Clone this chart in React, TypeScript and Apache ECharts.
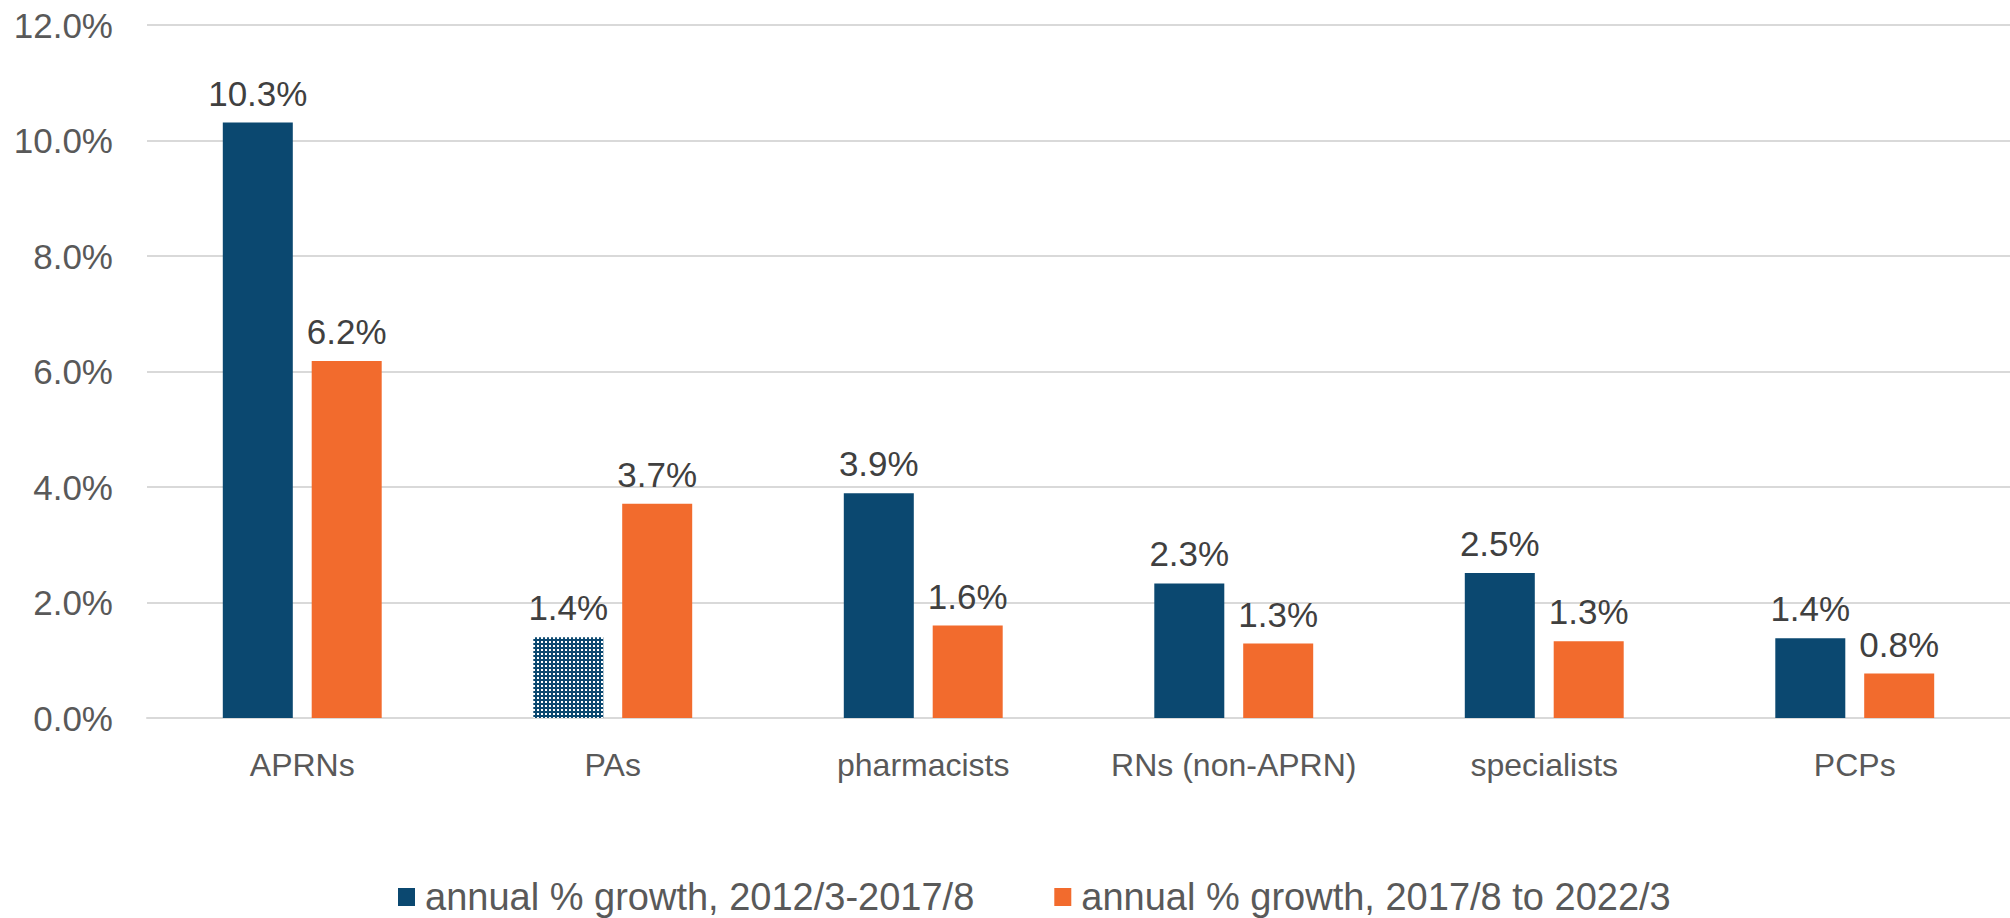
import React, { useEffect, useRef } from "react";
import * as echarts from "echarts";

const categories = ["APRNs", "PAs", "pharmacists", "RNs (non-APRN)", "specialists", "PCPs"];
const seriesNames = ["annual % growth, 2012/3-2017/8", "annual % growth, 2017/8 to 2022/3"];
const growth2012to2017 = [10.31, 1.4, 3.89, 2.33, 2.51, 1.38];
const growth2017to2022 = [6.18, 3.71, 1.6, 1.29, 1.33, 0.77];
const patternedIndex = 1; // PAs first-period bar is drawn with a dotted pattern

const BLUE = "#0B4870";
const ORANGE = "#F26B2D";
const FONT = "'Liberation Sans', Arial, sans-serif";

function makePattern(): HTMLCanvasElement {
  const c = document.createElement("canvas");
  c.width = 4;
  c.height = 4;
  const ctx = c.getContext("2d")!;
  ctx.fillStyle = BLUE;
  ctx.fillRect(0, 0, 4, 4);
  ctx.fillStyle = "#ffffff";
  ctx.fillRect(1, 1, 2, 2);
  return c;
}

export default function App() {
  const ref = useRef<HTMLDivElement>(null);
  useEffect(() => {
    if (!ref.current) return;
    const chart = echarts.init(ref.current, undefined, { renderer: "svg" });
    const pattern = makePattern();
    const fmt = (v: number) => v.toFixed(1) + "%";
    const labelStyle = {
      show: true,
      position: "top" as const,
      distance: 12,
      fontSize: 35,
      color: "#404040",
      fontFamily: FONT,
      formatter: (p: any) => fmt(p.value),
    };
    chart.setOption({
      animation: false,
      backgroundColor: "#ffffff",
      textStyle: { fontFamily: FONT },
      grid: { left: 147, right: -16, top: 25, bottom: 200, containLabel: false },
      legend: {
        top: 878,
        left: 398,
        itemWidth: 17,
        itemHeight: 18,
        itemGap: 80,
        icon: "rect",
        padding: 0,
        textStyle: { fontSize: 38, color: "#595959", fontFamily: FONT, padding: [0, 0, 0, 5] },
        data: seriesNames,
      },
      xAxis: {
        type: "category",
        data: categories,
        axisLine: { show: true, lineStyle: { color: "#d9d9d9", width: 2 } },
        axisTick: { show: false },
        axisLabel: { fontSize: 32, color: "#595959", margin: 31, fontFamily: FONT, interval: 0 },
      },
      yAxis: {
        type: "value",
        min: 0,
        max: 12,
        interval: 2,
        axisLine: { show: false },
        axisTick: { show: false },
        splitLine: { lineStyle: { color: "#d9d9d9", width: 2 } },
        axisLabel: {
          fontSize: 35,
          color: "#595959",
          margin: 34,
          fontFamily: FONT,
          formatter: (v: number) => v.toFixed(1) + "%",
        },
      },
      series: [
        {
          name: seriesNames[0],
          type: "bar",
          barWidth: 70,
          barGap: "27%",
          itemStyle: { color: BLUE },
          label: labelStyle,
          data: growth2012to2017.map((v, i) =>
            i === patternedIndex
              ? { value: v, itemStyle: { color: { image: pattern, repeat: "repeat" } } }
              : v
          ),
        },
        {
          name: seriesNames[1],
          type: "bar",
          barWidth: 70,
          barGap: "27%",
          itemStyle: { color: ORANGE },
          label: labelStyle,
          data: growth2017to2022,
        },
      ],
    });
    return () => chart.dispose();
  }, []);
  return (
    <div
      ref={ref}
      style={{ position: "absolute", left: 0, top: 0, width: 2010, height: 918, background: "#fff" }}
    />
  );
}
